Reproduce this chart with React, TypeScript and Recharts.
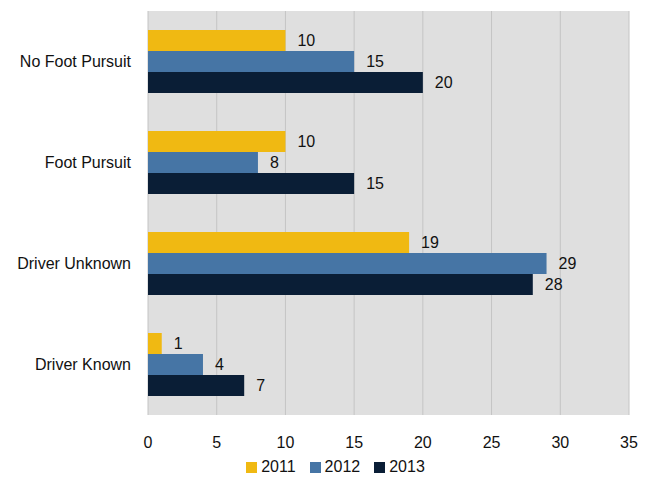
import { BarChart, Bar, XAxis, YAxis, CartesianGrid, Legend, LabelList } from "recharts";

const categories = ["No Foot Pursuit", "Foot Pursuit", "Driver Unknown", "Driver Known"];
const values2011 = [10, 10, 19, 1];
const values2012 = [15, 8, 29, 4];
const values2013 = [20, 15, 28, 7];
const xTicks = [0, 5, 10, 15, 20, 25, 30, 35];
const seriesNames = ["2011", "2012", "2013"];
const seriesColors = ["#f0b912", "#4675a5", "#0a1e36"];

const data = categories.map((name, i) => ({
  name,
  y2011: values2011[i],
  y2012: values2012[i],
  y2013: values2013[i],
}));

const font = "'Liberation Sans', Arial, sans-serif";
const labelStyle = { fill: "#111", fontSize: 16, fontFamily: font };

function LegendBox() {
  return (
    <div
      style={{
        display: "flex",
        justifyContent: "center",
        paddingLeft: 21,
        fontFamily: font,
        fontSize: 16,
        color: "#111",
        lineHeight: "20px",
      }}
    >
      {seriesNames.map((n, i) => (
        <div key={n} style={{ display: "flex", alignItems: "center", marginRight: i < 2 ? 14 : 0 }}>
          <span style={{ width: 11, height: 11, background: seriesColors[i], marginRight: 4, display: "inline-block" }} />
          <span>{n}</span>
        </div>
      ))}
    </div>
  );
}

export default function App() {
  return (
    <div style={{ position: "absolute", top: 0, left: 0, width: 650, height: 478, background: "#fff" }}>
      <BarChart
        width={650}
        height={478}
        data={data}
        layout="vertical"
        margin={{ top: 11, right: 21, left: 0, bottom: 3 }}
        barSize={21}
        barGap={0}
      >
        <CartesianGrid horizontal={false} stroke="#c4c4c4" fill="#dfdfdf" />
        <XAxis
          type="number"
          domain={[0, 35]}
          ticks={xTicks}
          axisLine={false}
          tickLine={false}
          tickSize={0}
          tickMargin={22}
          height={40}
          tick={{ fill: "#111", fontSize: 16, fontFamily: font }}
        />
        <YAxis
          type="category"
          dataKey="name"
          width={148}
          axisLine={false}
          tickLine={false}
          tickSize={0}
          tickMargin={17}
          tick={{ fill: "#111", fontSize: 16, fontFamily: font }}
        />
        <Legend
          verticalAlign="bottom"
          content={() => <LegendBox />}
          wrapperStyle={{ left: 0, width: 650, bottom: 1 }}
        />
        <Bar dataKey="y2011" name="2011" fill={seriesColors[0]} isAnimationActive={false}>
          <LabelList dataKey="y2011" position="right" offset={12} style={labelStyle} />
        </Bar>
        <Bar dataKey="y2012" name="2012" fill={seriesColors[1]} isAnimationActive={false}>
          <LabelList dataKey="y2012" position="right" offset={12} style={labelStyle} />
        </Bar>
        <Bar dataKey="y2013" name="2013" fill={seriesColors[2]} isAnimationActive={false}>
          <LabelList dataKey="y2013" position="right" offset={12} style={labelStyle} />
        </Bar>
      </BarChart>
    </div>
  );
}
